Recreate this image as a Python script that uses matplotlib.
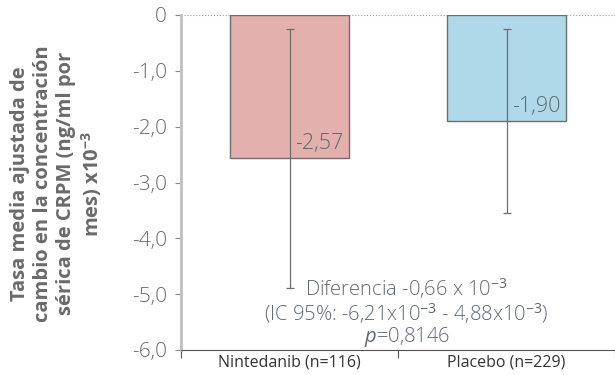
import matplotlib
matplotlib.use('Agg')
import matplotlib.pyplot as plt

# datos
grupos = ['Nintedanib (n=116)', 'Placebo (n=229)']
medias = [-2.57, -1.90]
ic_sup = [-0.25, -0.25]
ic_inf = [-4.89, -3.55]
etiquetas = ['-2,57', '-1,90']
yticks = [0, -1, -2, -3, -4, -5, -6]
ytick_labels = ['0', '-1,0', '-2,0', '-3,0', '-4,0', '-5,0', '-6,0']

colores = ['#e3b0ad', '#afd8e9']
gris = '#5f6872'

plt.rcParams['font.family'] = ['Open Sans', 'DejaVu Sans']
plt.rcParams['mathtext.fontset'] = 'custom'
plt.rcParams['mathtext.it'] = 'Open Sans:italic'
plt.rcParams['mathtext.rm'] = 'Open Sans'
plt.rcParams['mathtext.bf'] = 'Open Sans:bold'

fig = plt.figure(figsize=(6.15, 3.75), dpi=100)
ax = fig.add_axes([181 / 615, 25 / 375, 434 / 615, 335 / 375])

x = list(range(len(grupos)))
ax.bar(x, medias, width=0.55, color=colores, edgecolor='#6e6e6e', linewidth=1, zorder=2)

# barras de error (IC 95%)
for xi, m, lo, hi in zip(x, medias, ic_inf, ic_sup):
    ax.errorbar(xi, m, yerr=[[m - lo], [hi - m]], fmt='none', ecolor='#6e6e6e',
                elinewidth=0.9, capsize=3, capthick=0.9, zorder=3)

for xi, m, lab in zip(x, medias, etiquetas):
    ax.text(xi + 0.25, m + 0.27, lab, ha='right', va='center', fontsize=15.5,
            color=gris, fontweight='light', zorder=4)

ax.axhline(0, color='#a0a0a0', linestyle=':', linewidth=0.8, zorder=1)

ax.text(0.54, -4.68,
        'Diferencia -0,66 x 10$^{-3}$\n(IC 95%: -6,21x10$^{-3}$ - 4,88x10$^{-3}$)\n$p$=0,8146',
        ha='center', va='top', fontsize=14.5, color=gris, fontweight='light',
        linespacing=0.98, zorder=4)

ax.set_xlim(-0.5, 1.5)
ax.set_ylim(-6, 0)
ax.set_yticks(yticks)
ax.set_yticklabels(ytick_labels, fontsize=15, color='#6a6a6a', fontweight='light')
ax.set_xticks(x)
ax.set_xticklabels(grupos, fontsize=11.5, color='#333333')
ax.tick_params(axis='x', length=0, pad=3)
ax.tick_params(axis='y', length=4, color='#888888', width=0.8, pad=6)
ax.set_xticks([-0.5, 0.5, 1.5], minor=True)
ax.tick_params(axis='x', which='minor', length=6, color='#555555', width=0.8)

for s in ['top', 'right']:
    ax.spines[s].set_visible(False)
ax.spines['left'].set_color('#c0c0c0')
ax.spines['left'].set_linewidth(2)
ax.spines['bottom'].set_color('#555555')
ax.spines['bottom'].set_linewidth(0.8)

fig.text(57 / 615, 0.51,
         'Tasa media ajustada de\ncambio en la concentración\nsérica de CRPM (ng/ml por\nmes) x10$^{\\mathbf{-3}}$',
         rotation=90, ha='center', va='center', fontsize=14.5, fontweight='bold',
         color='#6a6a6a', linespacing=1.2)

fig.savefig('out.png', dpi=100)
